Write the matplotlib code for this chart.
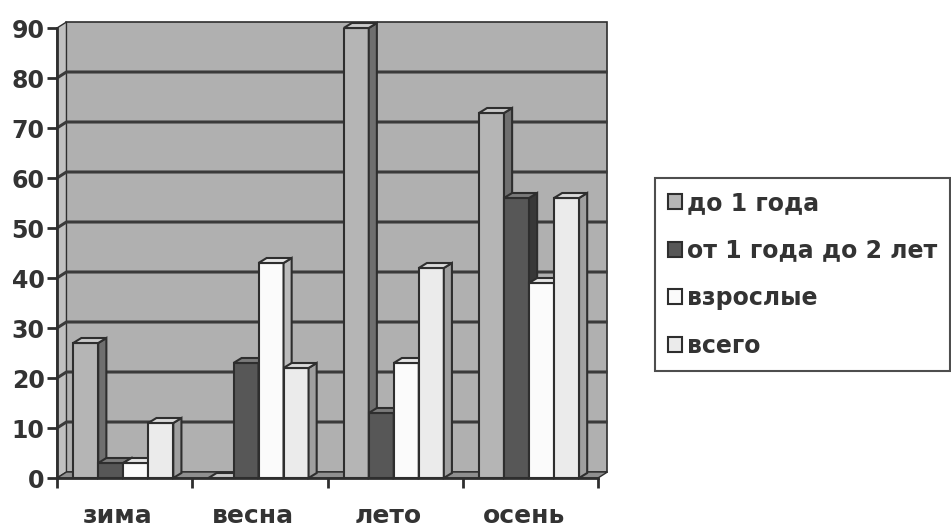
import matplotlib
matplotlib.use("Agg")
import matplotlib.pyplot as plt
from matplotlib.patches import Polygon, Patch

plt.rcParams['font.family'] = ['DejaVu Sans']
plt.rcParams['font.weight'] = 'bold'

# Data
seasons = ["зима", "весна", "лето", "осень"]
series_names = ["до 1 года", "от 1 года до 2 лет", "взрослые", "всего"]
under_1 = [27, 0, 90, 73]
from_1_to_2 = [3, 23, 13, 56]
adults = [3, 43, 23, 39]
total = [11, 22, 42, 56]
series_values = [under_1, from_1_to_2, adults, total]
y_ticks = [0, 10, 20, 30, 40, 50, 60, 70, 80, 90]

# Styling
front_colors = ["#b5b5b5", "#575757", "#fbfbfb", "#ebebeb"]
side_colors = ["#6f6f6f", "#383838", "#bcbcbc", "#9f9f9f"]
top_colors = ["#c9c9c9", "#7a7a7a", "#e6e6e6", "#d9d9d9"]
edge = "#2e2e2e"
text_color = "#333333"
wall_color = "#b0b0b0"
side_wall_color = "#c0c0c0"
floor_color = "#8f8f8f"

W, H = 951, 529
fig = plt.figure(figsize=(W / 100, H / 100), dpi=100)
fig.patch.set_facecolor("white")
ax = fig.add_axes([57 / W, (H - 478) / H, 541 / W, 450 / H])
ax.set_xlim(0, 4)
ax.set_ylim(0, 90)
ax.patch.set_visible(False)

ymax = 90
dxw, dyw = 0.07, 1.2   # depth of back wall
dxb, dyb = 0.06, 1.0   # depth of bars

# back wall, side wall and floor
ax.add_patch(Polygon([(dxw, dyw), (4 + dxw, dyw), (4 + dxw, ymax + dyw), (dxw, ymax + dyw)],
                     closed=True, facecolor=wall_color, edgecolor=edge, lw=1.2,
                     zorder=0.5, clip_on=False))
ax.add_patch(Polygon([(0, 0), (dxw, dyw), (dxw, ymax + dyw), (0, ymax)],
                     closed=True, facecolor=side_wall_color, edgecolor=edge, lw=1.0,
                     zorder=0.6, clip_on=False))
ax.add_patch(Polygon([(0, 0), (4, 0), (4 + dxw, dyw), (dxw, dyw)],
                     closed=True, facecolor=floor_color, edgecolor=edge, lw=1.0,
                     zorder=0.6, clip_on=False))

# gridlines on the walls
for v in y_ticks[1:-1]:
    ax.plot([0, dxw, 4 + dxw], [v, v + dyw, v + dyw], color="#3a3a3a", lw=2.2,
            zorder=0.8, clip_on=False, solid_capstyle="butt")

# bars with side and top faces
bar_w = 0.185
n = len(series_values)
offsets = [(-1.5 + i) * bar_w for i in range(n)]
z = 2
for c in range(len(seasons)):
    for i in range(n):
        val = series_values[i][c]
        x0 = c + 0.49 + offsets[i] - bar_w / 2
        x1 = x0 + bar_w
        ax.bar(x0, val, width=bar_w, align="edge", color=front_colors[i],
               edgecolor=edge, linewidth=1.5, zorder=z)
        ax.add_patch(Polygon([(x1, 0), (x1 + dxb, dyb), (x1 + dxb, val + dyb), (x1, val)],
                             closed=True, facecolor=side_colors[i], edgecolor=edge,
                             lw=1.5, zorder=z, clip_on=False))
        ax.add_patch(Polygon([(x0, val), (x1, val), (x1 + dxb, val + dyb), (x0 + dxb, val + dyb)],
                             closed=True, facecolor=top_colors[i], edgecolor=edge,
                             lw=1.5, zorder=z, clip_on=False))
        z += 0.01

# axes
for s in ["top", "right"]:
    ax.spines[s].set_visible(False)
for s in ["left", "bottom"]:
    ax.spines[s].set_color("#2e2e2e")
    ax.spines[s].set_linewidth(2)
    ax.spines[s].set_zorder(5)

ax.set_yticks(y_ticks)
ax.set_yticklabels([str(v) for v in y_ticks])
ax.tick_params(axis="y", direction="out", length=7, width=2, color="#2e2e2e",
               labelsize=17, labelcolor=text_color, pad=2)

ax.set_xticks([0.45, 1.45, 2.45, 3.45])
ax.set_xticklabels(seasons)
ax.set_xticks([0, 1, 2, 3, 4], minor=True)
ax.tick_params(axis="x", which="major", length=0, labelsize=18,
               labelcolor=text_color, pad=19)
ax.tick_params(axis="x", which="minor", direction="out", length=7, width=2,
               color="#2e2e2e")
for lbl in ax.get_xticklabels() + ax.get_yticklabels():
    lbl.set_fontweight("bold")

# legend
handles = [Patch(facecolor=front_colors[i], edgecolor=edge, linewidth=1.5)
           for i in range(n)]
leg = fig.legend(handles, series_names, loc="upper left",
                 bbox_to_anchor=(655 / W, 1 - 178 / H), frameon=True,
                 fancybox=False, edgecolor="#222222", fontsize=17,
                 handlelength=0.6, handleheight=0.6, handletextpad=0.2,
                 labelspacing=1.0, borderpad=0.55, borderaxespad=0)
leg.get_frame().set_linewidth(1.5)
for t in leg.get_texts():
    t.set_fontweight("bold")
    t.set_color(text_color)

fig.savefig("out.png", dpi=100, facecolor="white")
